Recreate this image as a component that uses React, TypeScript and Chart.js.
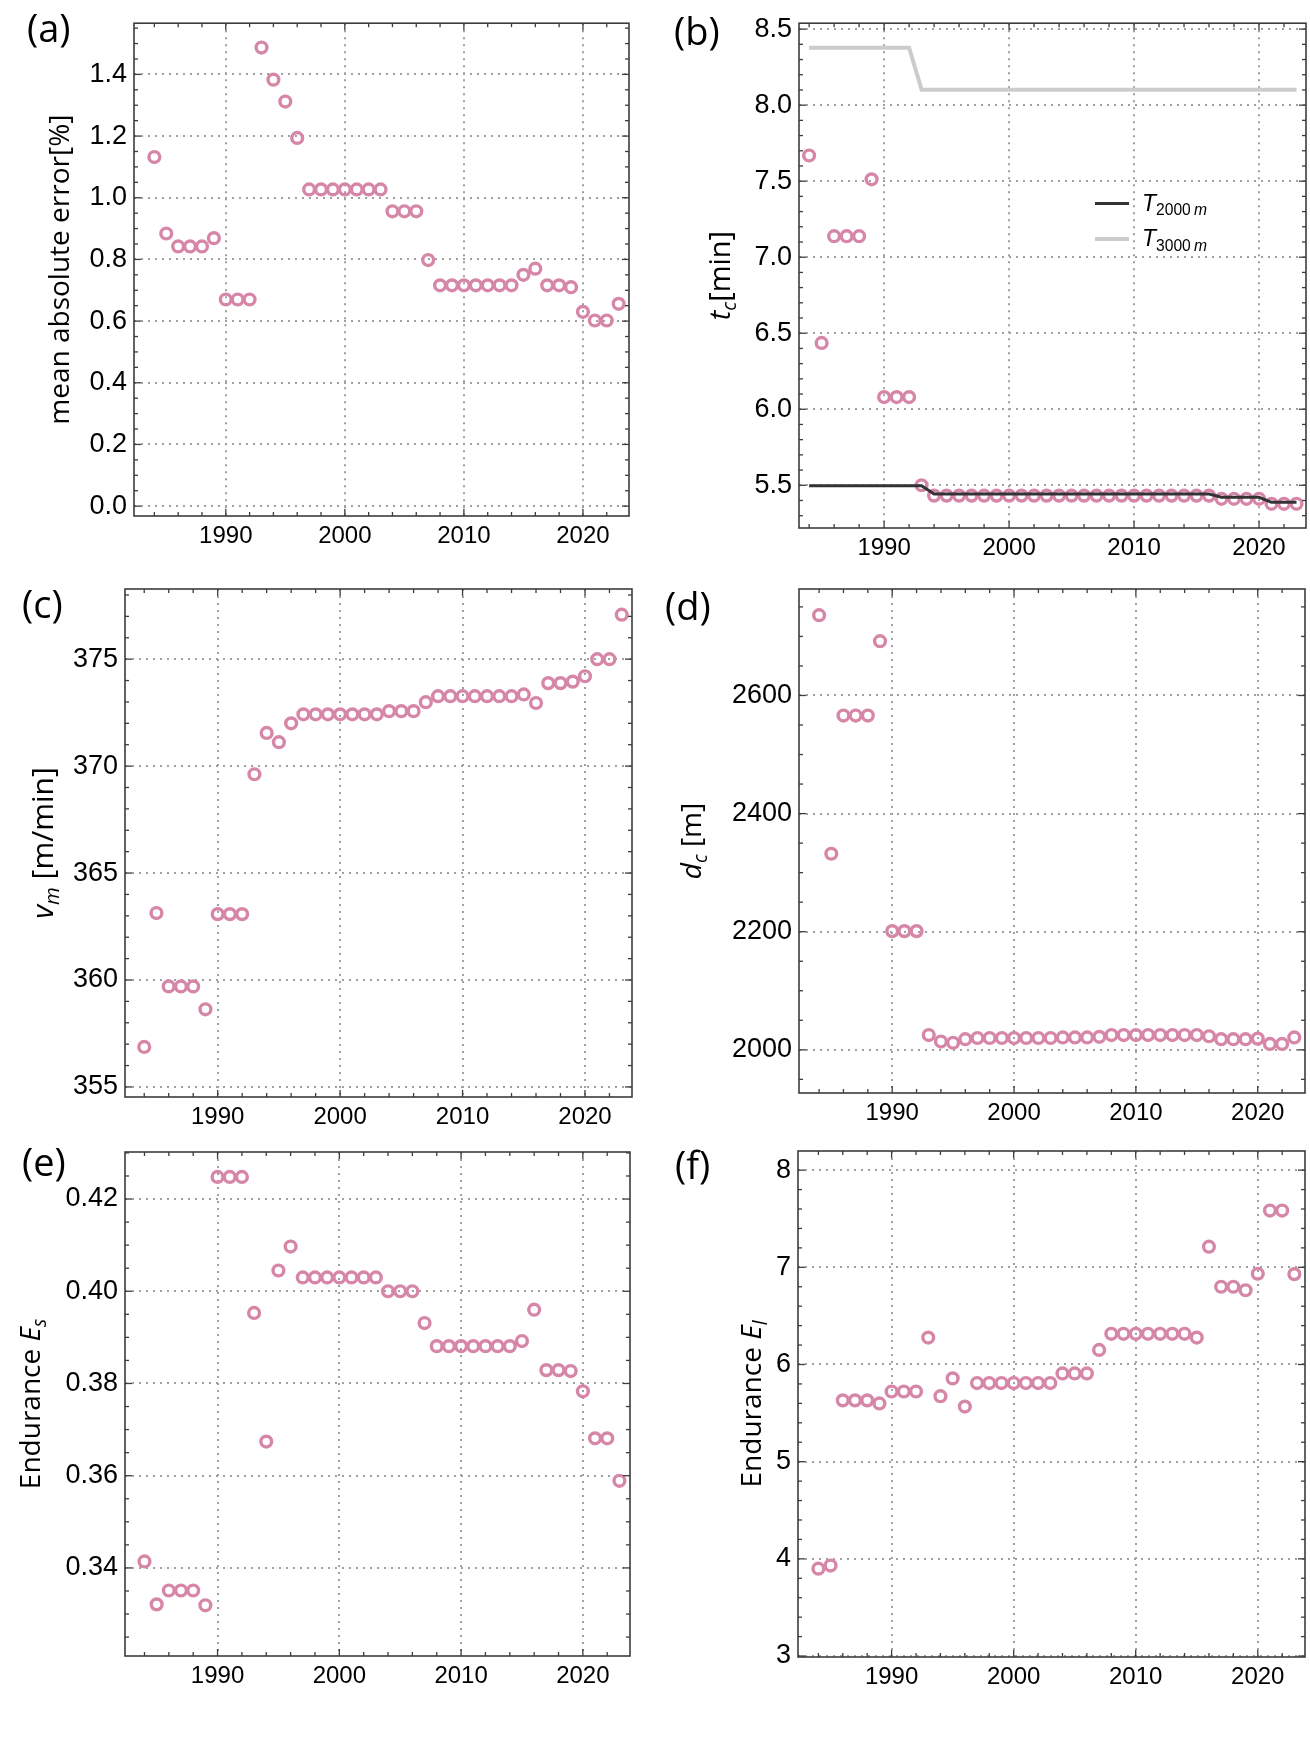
import { useEffect, useRef } from 'react';
import { Chart, registerables } from 'chart.js';

Chart.register(...registerables);

// ---------------- data ----------------
const years = [
  1984, 1985, 1986, 1987, 1988, 1989, 1990, 1991, 1992, 1993,
  1994, 1995, 1996, 1997, 1998, 1999, 2000, 2001, 2002, 2003,
  2004, 2005, 2006, 2007, 2008, 2009, 2010, 2011, 2012, 2013,
  2014, 2015, 2016, 2017, 2018, 2019, 2020, 2021, 2022, 2023,
];

const maeValues = [
  1.132, 0.884, 0.842, 0.842, 0.842, 0.869, 0.670, 0.670, 0.670, 1.487,
  1.383, 1.312, 1.194, 1.027, 1.027, 1.027, 1.027, 1.027, 1.027, 1.027,
  0.956, 0.956, 0.956, 0.798, 0.716, 0.716, 0.716, 0.716, 0.716, 0.716,
  0.716, 0.750, 0.770, 0.716, 0.716, 0.710, 0.630, 0.602, 0.602, 0.656,
];

const tcValues = [
  7.669, 6.436, 7.138, 7.138, 7.138, 7.512, 6.080, 6.080, 6.080, 5.500,
  5.432, 5.432, 5.432, 5.432, 5.432, 5.432, 5.432, 5.432, 5.432, 5.432,
  5.432, 5.432, 5.432, 5.432, 5.432, 5.432, 5.432, 5.432, 5.432, 5.432,
  5.432, 5.432, 5.432, 5.411, 5.411, 5.411, 5.411, 5.378, 5.378, 5.378,
];

const t2000Values = [
  5.497, 5.497, 5.497, 5.497, 5.497, 5.497, 5.497, 5.497, 5.497, 5.497,
  5.443, 5.443, 5.443, 5.443, 5.443, 5.443, 5.443, 5.443, 5.443, 5.443,
  5.443, 5.443, 5.443, 5.443, 5.443, 5.443, 5.443, 5.443, 5.443, 5.443,
  5.443, 5.443, 5.443, 5.421, 5.421, 5.421, 5.421, 5.388, 5.388, 5.388,
];

const t3000Values = [
  8.378, 8.378, 8.378, 8.378, 8.378, 8.378, 8.378, 8.378, 8.378, 8.102,
  8.102, 8.102, 8.102, 8.102, 8.102, 8.102, 8.102, 8.102, 8.102, 8.102,
  8.102, 8.102, 8.102, 8.102, 8.102, 8.102, 8.102, 8.102, 8.102, 8.102,
  8.102, 8.102, 8.102, 8.102, 8.102, 8.102, 8.102, 8.102, 8.102, 8.102,
];

const vmValues = [
  356.87, 363.13, 359.70, 359.70, 359.70, 358.63, 363.08, 363.08, 363.08, 369.62,
  371.55, 371.12, 372.00, 372.42, 372.42, 372.42, 372.42, 372.42, 372.42, 372.42,
  372.57, 372.57, 372.57, 372.99, 373.27, 373.27, 373.27, 373.27, 373.27, 373.27,
  373.27, 373.35, 372.95, 373.88, 373.88, 373.95, 374.20, 375.00, 375.00, 377.08,
];

const dcValues = [
  2736, 2332, 2566, 2566, 2566, 2692, 2201, 2201, 2201, 2025,
  2014, 2012, 2018, 2020, 2020, 2020, 2020, 2020, 2020, 2020,
  2021, 2021, 2021, 2022, 2025, 2025, 2025, 2025, 2025, 2025,
  2025, 2025, 2023, 2018, 2018, 2018, 2019, 2010, 2010, 2021,
];

const esValues = [
  0.3414, 0.3321, 0.3351, 0.3351, 0.3351, 0.3319, 0.4248, 0.4248, 0.4248, 0.3953,
  0.3674, 0.4045, 0.4097, 0.4030, 0.4030, 0.4030, 0.4030, 0.4030, 0.4030, 0.4030,
  0.4000, 0.4000, 0.4000, 0.3931, 0.3881, 0.3881, 0.3881, 0.3881, 0.3881, 0.3881,
  0.3881, 0.3892, 0.3960, 0.3829, 0.3829, 0.3827, 0.3783, 0.3681, 0.3681, 0.3589,
];

const elValues = [
  3.899, 3.931, 5.631, 5.631, 5.631, 5.599, 5.722, 5.722, 5.722, 6.277,
  5.674, 5.857, 5.567, 5.809, 5.809, 5.809, 5.809, 5.809, 5.809, 5.809,
  5.908, 5.908, 5.908, 6.150, 6.316, 6.316, 6.316, 6.316, 6.316, 6.316,
  6.316, 6.277, 7.212, 6.800, 6.800, 6.764, 6.934, 7.584, 7.584, 6.930,
];

// tick labels
const yearTicks = [1990, 2000, 2010, 2020];
const yearMinorTicks = [1984, 1986, 1988, 1992, 1994, 1996, 1998, 2002, 2004, 2006, 2008, 2012, 2014, 2016, 2018, 2022];
const maeTicks = [0, 0.2, 0.4, 0.6, 0.8, 1.0, 1.2, 1.4];
const tcTicks = [5.5, 6.0, 6.5, 7.0, 7.5, 8.0, 8.5];
const vmTicks = [355, 360, 365, 370, 375];
const dcTicks = [2000, 2200, 2400, 2600];
const esTicks = [0.34, 0.36, 0.38, 0.40, 0.42];
const elTicks = [3, 4, 5, 6, 7, 8];

// ---------------- styles ----------------
const PINK = 'rgb(214,134,167)';
const FRAME = '#3c3c3c';
const GRID = '#a0a0a0';
const TICK_FONT = '"Liberation Sans", Arial, sans-serif';
const TITLE_FONT = '"Open Sans", "Noto Sans", sans-serif';

type Seg = { t: string; i?: boolean; sub?: boolean };

interface LineDef { values: number[]; color: string; width: number }

interface PanelDef {
  id: string;
  box: [number, number, number, number];
  frame: [number, number, number, number];
  xRange: [number, number];
  yRange: [number, number];
  yTicks: number[];
  yMinorStep: number;
  decimals: number;
  values: number[];
  title: Seg[];
  titleSize: number;
  titleBaseX: number;
  letter: string;
  letterPos: [number, number];
  lines?: LineDef[];
  legend?: boolean;
}

const panels: PanelDef[] = [
  {
    id: 'a', box: [0, 0, 655, 560], frame: [134, 22, 629, 516],
    xRange: [1982.29, 2023.87], yRange: [-0.032, 1.566],
    yTicks: maeTicks, yMinorStep: 0.05, decimals: 1, values: maeValues,
    title: [{ t: 'mean absolute error[%]' }], titleSize: 28, titleBaseX: 69,
    letter: '(a)', letterPos: [27, 42],
  },
  {
    id: 'b', box: [655, 0, 655, 560], frame: [799, 22, 1306, 528],
    xRange: [1983.19, 2023.76], yRange: [5.219, 8.539],
    yTicks: tcTicks, yMinorStep: 0.1, decimals: 1, values: tcValues,
    title: [{ t: 't', i: true }, { t: 'c', i: true, sub: true }, { t: '[min]' }], titleSize: 29, titleBaseX: 730,
    letter: '(b)', letterPos: [674, 45],
    lines: [
      { values: t2000Values, color: '#333333', width: 3 },
      { values: t3000Values, color: '#cccccc', width: 4 },
    ],
    legend: true,
  },
  {
    id: 'c', box: [0, 560, 655, 565], frame: [125, 589, 632, 1097],
    xRange: [1982.43, 2023.84], yRange: [354.53, 378.28],
    yTicks: vmTicks, yMinorStep: 1, decimals: 0, values: vmValues,
    title: [{ t: 'v', i: true }, { t: 'm', i: true, sub: true }, { t: ' [m/min]' }], titleSize: 30, titleBaseX: 53,
    letter: '(c)', letterPos: [22, 618],
  },
  {
    id: 'd', box: [655, 560, 655, 565], frame: [799, 589, 1305, 1093],
    xRange: [1982.35, 2023.88], yRange: [1926.9, 2780.3],
    yTicks: dcTicks, yMinorStep: 50, decimals: 0, values: dcValues,
    title: [{ t: 'd', i: true }, { t: 'c', i: true, sub: true }, { t: ' [m]' }], titleSize: 28, titleBaseX: 701,
    letter: '(d)', letterPos: [665, 620],
  },
  {
    id: 'e', box: [0, 1125, 655, 619], frame: [125, 1152, 630, 1656],
    xRange: [1982.4, 2023.87], yRange: [0.3209, 0.4302],
    yTicks: esTicks, yMinorStep: 0.005, decimals: 2, values: esValues,
    title: [{ t: 'Endurance ' }, { t: 'E', i: true }, { t: 's', i: true, sub: true }], titleSize: 28, titleBaseX: 40,
    letter: '(e)', letterPos: [22, 1176],
  },
  {
    id: 'f', box: [655, 1125, 655, 619], frame: [798, 1151, 1305, 1657],
    xRange: [1982.33, 2023.87], yRange: [2.99, 8.197],
    yTicks: elTicks, yMinorStep: 0.2, decimals: 0, values: elValues,
    title: [{ t: 'Endurance ' }, { t: 'E', i: true }, { t: 'l', i: true, sub: true }], titleSize: 28, titleBaseX: 761,
    letter: '(f)', letterPos: [675, 1179],
  },
];

function drawRich(ctx: CanvasRenderingContext2D, segs: Seg[], size: number, family: string, align: 'center' | 'left') {
  const parts = segs.map((s) => {
    const fs = s.sub ? size * 0.68 : size;
    const font = `${s.i ? 'italic ' : ''}${fs}px ${family}`;
    ctx.font = font;
    return { t: s.t, font, w: ctx.measureText(s.t).width, dy: s.sub ? size * 0.2 : 0 };
  });
  const total = parts.reduce((a, p) => a + p.w, 0);
  let x = align === 'center' ? -total / 2 : 0;
  ctx.textAlign = 'left';
  ctx.textBaseline = 'alphabetic';
  for (const p of parts) {
    ctx.font = p.font;
    ctx.fillText(p.t, x, p.dy);
    x += p.w;
  }
}

function makeDecor(def: PanelDef) {
  return {
    id: 'decor_' + def.id,
    beforeDatasetsDraw(chart: any) {
      const { ctx, chartArea } = chart;
      const xs = chart.scales.x;
      const ys = chart.scales.y;
      ctx.save();
      ctx.strokeStyle = GRID;
      ctx.lineWidth = 2;
      ctx.setLineDash([2, 5]);
      for (const v of yearTicks) {
        const x = Math.round(xs.getPixelForValue(v));
        ctx.beginPath();
        ctx.moveTo(x, chartArea.top);
        ctx.lineTo(x, chartArea.bottom);
        ctx.stroke();
      }
      for (const v of def.yTicks) {
        const y = Math.round(ys.getPixelForValue(v));
        ctx.beginPath();
        ctx.moveTo(chartArea.left, y);
        ctx.lineTo(chartArea.right, y);
        ctx.stroke();
      }
      ctx.restore();
    },
    afterDraw(chart: any) {
      const { ctx, chartArea } = chart;
      const xs = chart.scales.x;
      const ys = chart.scales.y;
      const { left, right, top, bottom } = chartArea;
      ctx.save();
      ctx.strokeStyle = FRAME;
      ctx.lineWidth = 1.3;
      const tick = (x1: number, y1: number, x2: number, y2: number) => {
        ctx.beginPath();
        ctx.moveTo(x1, y1);
        ctx.lineTo(x2, y2);
        ctx.stroke();
      };
      const MAJ = 7;
      const MIN = 4;
      for (const v of yearTicks) {
        const x = xs.getPixelForValue(v);
        tick(x, bottom, x, bottom - MAJ);
        tick(x, top, x, top + MAJ);
      }
      for (const v of yearMinorTicks) {
        const x = xs.getPixelForValue(v);
        tick(x, bottom, x, bottom - MIN);
        tick(x, top, x, top + MIN);
      }
      const [ymin, ymax] = def.yRange;
      const step = def.yMinorStep;
      const start = Math.ceil(ymin / step - 1e-6);
      const end = Math.floor(ymax / step + 1e-6);
      for (let k = start; k <= end; k++) {
        const v = k * step;
        const isMajor = def.yTicks.some((t) => Math.abs(t - v) < step * 0.01);
        const y = ys.getPixelForValue(v);
        const len = isMajor ? MAJ : MIN;
        tick(left, y, left + len, y);
        tick(right, y, right - len, y);
      }
      ctx.lineWidth = 1.6;
      ctx.strokeRect(left, top, right - left, bottom - top);

      // axis title
      ctx.fillStyle = '#000';
      const cx = def.titleBaseX - def.box[0];
      const cy = (top + bottom) / 2;
      ctx.save();
      ctx.translate(cx, cy);
      ctx.rotate(-Math.PI / 2);
      drawRich(ctx, def.title, def.titleSize, TITLE_FONT, 'center');
      ctx.restore();

      // panel letter
      ctx.font = `38px ${TITLE_FONT}`;
      ctx.textAlign = 'left';
      ctx.textBaseline = 'alphabetic';
      ctx.fillText(def.letter, def.letterPos[0] - def.box[0], def.letterPos[1] - def.box[1]);

      // legend
      if (def.legend) {
        const items = [
          { y: 203.5, color: '#333333', width: 3, sub: '2000' },
          { y: 239, color: '#cccccc', width: 4, sub: '3000' },
        ];
        for (const it of items) {
          const ly = it.y - def.box[1];
          ctx.strokeStyle = it.color;
          ctx.lineWidth = it.width;
          ctx.setLineDash([]);
          tick(1095 - def.box[0], ly, 1129 - def.box[0], ly);
          ctx.save();
          ctx.translate(1142 - def.box[0], ly + 7);
          ctx.fillStyle = '#000';
          drawRich(ctx, [{ t: 'T', i: true }, { t: it.sub, sub: true }, { t: '\u2009m', i: true, sub: true }], 23, TICK_FONT, 'left');
          ctx.restore();
        }
      }
      ctx.restore();
    },
  };
}

function Panel({ def }: { def: PanelDef }) {
  const ref = useRef<HTMLCanvasElement | null>(null);
  useEffect(() => {
    const canvas = ref.current;
    if (!canvas) return;
    const [bx, by, bw, bh] = def.box;
    const [fl, ft, fr, fb] = def.frame;
    const datasets: any[] = [];
    (def.lines || []).forEach((ln) => {
      datasets.push({
        data: years.map((x, i) => ({ x, y: ln.values[i] })),
        showLine: true,
        borderColor: ln.color,
        borderWidth: ln.width,
        pointRadius: 0,
        pointHoverRadius: 0,
        tension: 0,
        fill: false,
      });
    });
    datasets.push({
      data: years.map((x, i) => ({ x, y: def.values[i] })),
      showLine: false,
      pointStyle: 'circle',
      pointRadius: 5.4,
      pointHoverRadius: 5.4,
      pointBorderWidth: 3.4,
      pointBorderColor: PINK,
      pointBackgroundColor: 'rgba(255,255,255,0)',
    });
    const chart = new Chart(canvas, {
      type: 'scatter',
      data: { datasets },
      options: {
        animation: false,
        responsive: false,
        maintainAspectRatio: false,
        events: [],
        layout: {
          autoPadding: false,
          padding: { left: 0, top: ft - by, right: bx + bw - fr, bottom: 0 },
        },
        plugins: { legend: { display: false }, tooltip: { enabled: false } },
        scales: {
          x: {
            type: 'linear',
            min: def.xRange[0],
            max: def.xRange[1],
            afterBuildTicks: (s: any) => { s.ticks = yearTicks.map((v) => ({ value: v })); },
            afterFit: (s: any) => { s.height = by + bh - fb; },
            grid: { display: false, drawTicks: false },
            border: { display: false },
            ticks: {
              color: '#000',
              padding: 6,
              maxRotation: 0,
              autoSkip: false,
              font: { family: TICK_FONT, size: 24 },
              callback: (v: any) => String(v),
            },
          },
          y: {
            type: 'linear',
            min: def.yRange[0],
            max: def.yRange[1],
            afterBuildTicks: (s: any) => { s.ticks = def.yTicks.map((v) => ({ value: v })); },
            afterFit: (s: any) => { s.width = fl - bx; },
            grid: { display: false, drawTicks: false },
            border: { display: false },
            ticks: {
              color: '#000',
              padding: 7,
              autoSkip: false,
              font: { family: TICK_FONT, size: 27 },
              callback: (v: any) => Number(v).toFixed(def.decimals),
            },
          },
        },
      } as any,
      plugins: [makeDecor(def)],
    });
    return () => chart.destroy();
  }, [def]);
  const [bx, by, bw, bh] = def.box;
  return (
    <canvas
      ref={ref}
      width={bw}
      height={bh}
      style={{ position: 'absolute', left: bx, top: by, width: bw, height: bh }}
    />
  );
}

export default function App() {
  return (
    <div style={{ position: 'absolute', left: 0, top: 0, width: 1310, height: 1744, background: '#fff', overflow: 'hidden' }}>
      {panels.map((p) => (
        <Panel key={p.id} def={p} />
      ))}
    </div>
  );
}
